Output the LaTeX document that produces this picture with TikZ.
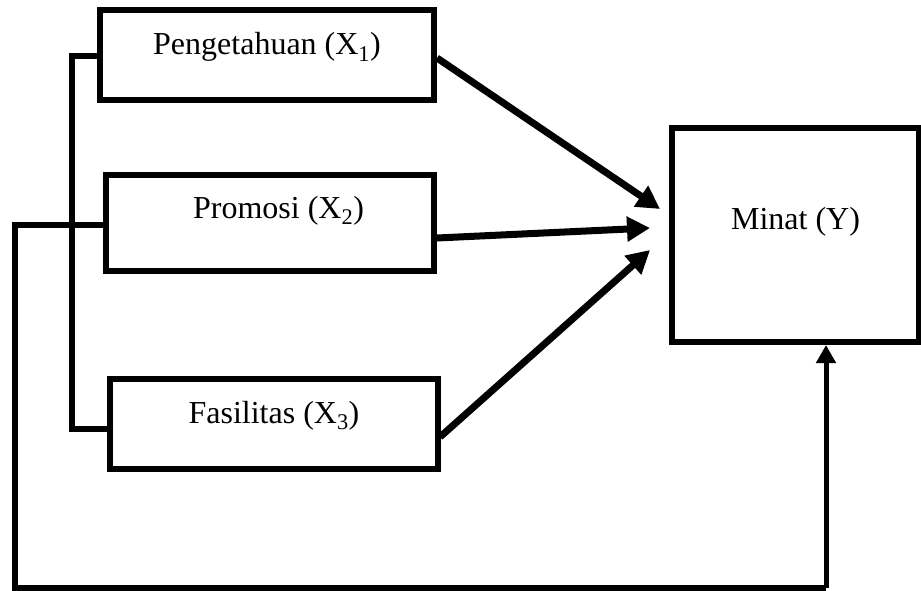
\documentclass[tikz,border=0pt]{standalone}
\usepackage{fontspec}
\setmainfont{Liberation Serif}
\usetikzlibrary{arrows.meta}
\begin{document}
\begin{tikzpicture}[x=1pt,y=-1pt,
  box/.style={draw,line width=6pt,inner sep=0pt,text height=21pt,
    font=\fontsize{32}{38}\selectfont},
  link/.style={line width=5.5pt},
  bigarrow/.style={line width=7pt,-{Triangle[width=24pt,length=23pt]}},
  uparrow/.style={line width=5pt,-{Triangle[width=19pt,length=18pt]}}]
\useasboundingbox (0,0) rectangle (921,591);
\node[box,minimum width=334pt,minimum height=90pt,text depth=21pt] (peng) at (267,55) {Pengetahuan (X\textsubscript{1})};
\node[box,minimum width=328pt,minimum height=96pt,text depth=31pt] (prom) at (270,223) {\hspace*{17pt}Promosi (X\textsubscript{2})};
\node[box,minimum width=328pt,minimum height=90pt,text depth=23pt] (fas) at (274,424) {Fasilitas (X\textsubscript{3})};
\node[box,minimum width=247pt,minimum height=214pt,text depth=33pt] (minat) at (795.5,235) {Minat (Y)};
% bracket on the left
\coordinate (b1) at (72,56);
\coordinate (b2) at (72,429);
\draw[link] (peng.west |- b1) -- (b1) -- (b2) -- (fas.west |- b2);
% outer loop
\coordinate (l1) at (15,225);
\coordinate (l2) at (15,588);
\coordinate (l3) at (826,588);
\draw[link,line join=miter] (prom.west |- l1) -- (l1) -- (l2) -- (l3);
\draw[uparrow] (l3) -- (l3 |- minat.south);
% arrows into Minat
\coordinate (t1) at (660,209);
\coordinate (t2) at (650,228);
\coordinate (t3) at (650,250);
\draw[bigarrow] ([yshift=-3pt]peng.east) -- (t1);
\draw[bigarrow] ([yshift=-15pt]prom.east) -- (t2);
\draw[bigarrow] ([yshift=-13pt,xshift=-1pt]fas.east) -- (t3);
\end{tikzpicture}
\end{document}
